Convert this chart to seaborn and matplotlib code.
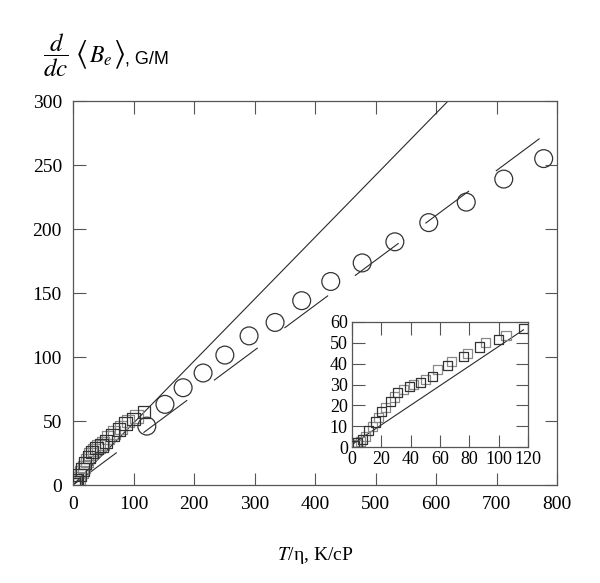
import matplotlib
matplotlib.use("Agg")
import matplotlib.pyplot as plt
import seaborn as sns
import numpy as np

# ---- data ----
circ_x = [122, 152, 182, 215, 251, 291, 334, 378, 426, 478, 532, 588, 650, 712, 778]
circ_y = [46, 63, 76, 87.5, 101.5, 116.5, 127, 144, 159, 173.5, 190, 205, 221, 239, 255]

sqA_x = [2, 4, 7, 11, 16, 20, 26, 31, 39, 47, 55, 65, 76, 87, 100, 117]
sqA_y = [0.5, 2, 3.5, 8, 12, 17, 22, 26, 29, 31, 34, 39, 43.5, 48, 51.5, 57]
sqB_x = [3, 6, 9, 14, 18, 23, 29, 35, 42, 50, 58, 68, 79, 91, 105]
sqB_y = [1, 2.5, 5, 10, 14, 19, 24, 27.5, 30, 32.5, 37, 41, 45, 50, 53.5]

steep_x = [0, 620]
steep_y = [0, 300]
dash_x = [0, 785]
dash_y = [0, 275.5]
inset_line_x = [0, 117]
inset_line_y = [1.2, 56.3]

main_xticks = [0, 100, 200, 300, 400, 500, 600, 700, 800]
main_yticks = [0, 50, 100, 150, 200, 250, 300]
inset_xticks = [0, 20, 40, 60, 80, 100, 120]
inset_yticks = [0, 10, 20, 30, 40, 50, 60]

sns.set_theme(style="ticks")
plt.rcParams['font.family'] = ['Liberation Serif', 'DejaVu Serif']
plt.rcParams['mathtext.fontset'] = 'stix'

W, H = 600, 583
fig = plt.figure(figsize=(W / 100, H / 100), dpi=100)
fig.patch.set_facecolor('white')

ax = fig.add_axes([73 / W, 98 / H, 484 / W, 384 / H])
ins = fig.add_axes([352 / W, 136 / H, 176 / W, 125 / H])

edge = '#555555'
dark = '#2a2a2a'

# main lines
sns.lineplot(x=steep_x, y=steep_y, ax=ax, color=dark, linewidth=0.8)
sns.lineplot(x=dash_x, y=dash_y, ax=ax, color=dark, linewidth=0.8,
             linestyle=(0, (49, 30)))
# main squares
sns.scatterplot(x=sqB_x, y=sqB_y, ax=ax, marker='s', s=80, facecolor='none',
                edgecolor='#8a8a8a', linewidth=0.9, zorder=3)
sns.scatterplot(x=sqA_x, y=sqA_y, ax=ax, marker='s', s=80, facecolor='none',
                edgecolor='#333333', linewidth=0.9, zorder=3)
# circles
sns.scatterplot(x=circ_x, y=circ_y, ax=ax, marker='o', s=165, facecolor='none',
                edgecolor='#333333', linewidth=0.9, zorder=3)

ax.set_xlim(0, 800)
ax.set_ylim(0, 300)
ax.set_xticks(main_xticks)
ax.set_yticks(main_yticks)
ax.tick_params(direction='in', top=True, right=True, length=9, width=0.8,
               color=edge, labelsize=14, pad=8, labelcolor='black')
for sp in ax.spines.values():
    sp.set_color(edge)
    sp.set_linewidth(0.9)
ax.set_xlabel(r'$T$/η, K/cP', fontsize=14, color='black')
ax.xaxis.set_label_coords(0.5, -0.156)
ax.xaxis.label.set_va('top')
ax.set_ylabel('')

# inset
sns.lineplot(x=inset_line_x, y=inset_line_y, ax=ins, color=dark, linewidth=0.8)
sns.scatterplot(x=sqB_x, y=sqB_y, ax=ins, marker='s', s=42, facecolor='none',
                edgecolor='#8a8a8a', linewidth=0.9, zorder=3)
sns.scatterplot(x=sqA_x, y=sqA_y, ax=ins, marker='s', s=42, facecolor='none',
                edgecolor='#333333', linewidth=0.9, zorder=3)
ins.set_xlim(0, 120)
ins.set_ylim(0, 60)
ins.set_xticks(inset_xticks)
ins.set_yticks(inset_yticks)
ins.tick_params(direction='in', top=True, right=True, length=9, width=0.8,
                color=edge, labelsize=13, pad=3, labelcolor='black')
for sp in ins.spines.values():
    sp.set_color(edge)
    sp.set_linewidth(0.9)
ins.set_xlabel('')
ins.set_ylabel('')
ins.set_facecolor('white')

# y label at top-left (built from pieces to mimic the original typesetting)
fig.text(43 / W, 1 - 55 / H, r'$\dfrac{d}{dc}$', fontsize=18,
         ha='left', va='center', color='black')
fig.text(75 / W, 1 - 55 / H, r'$\langle$', fontsize=22,
         ha='left', va='center', color='black')
fig.text(89 / W, 1 - 63 / H, r'$B_e$', fontsize=17,
         ha='left', va='baseline', color='black')
fig.text(113 / W, 1 - 55 / H, r'$\rangle$', fontsize=22,
         ha='left', va='center', color='black')
fig.text(125 / W, 1 - 63 / H, ', G/M', fontsize=13, family='Liberation Sans',
         ha='left', va='baseline', color='black')

fig.savefig('out.png', dpi=100, facecolor='white')
